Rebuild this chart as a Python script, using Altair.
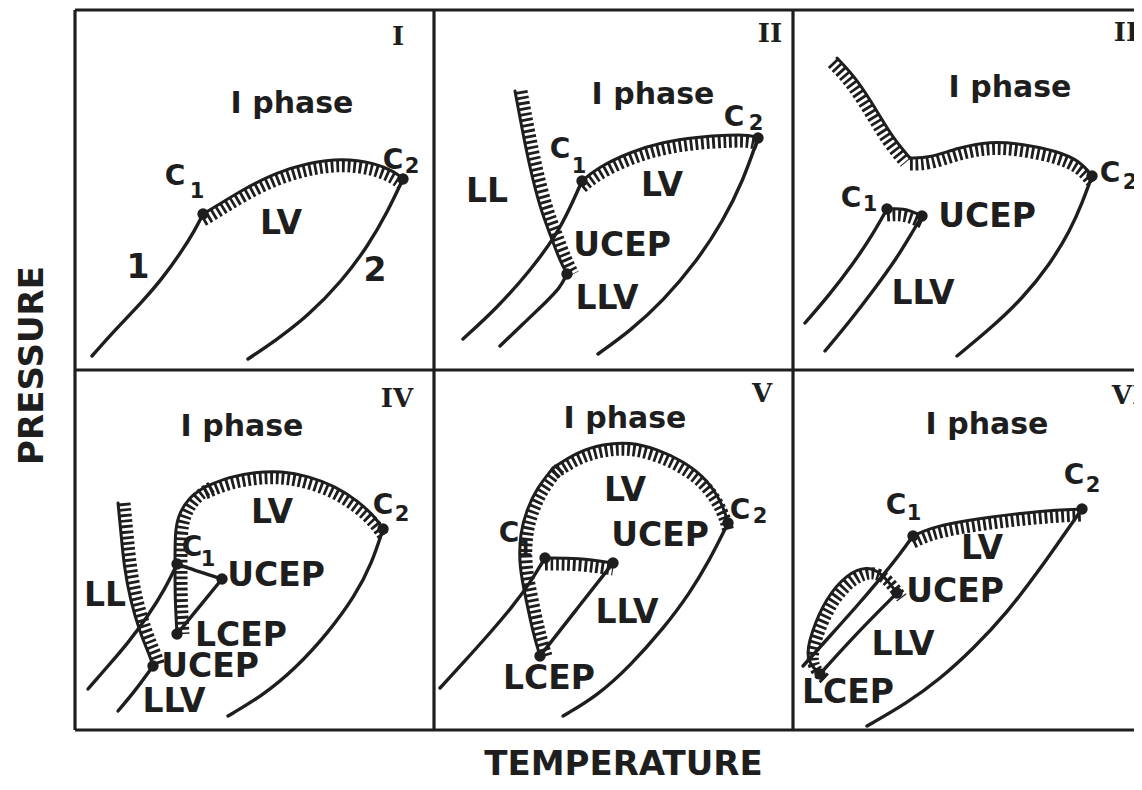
import altair as alt
import pandas as pd

INK = "#1e1e1e"

# ---------------- grid of the six panels ----------------
PANEL_NAMES = ["I", "II", "III", "IV", "V", "VI"]
PANEL_COL = [0, 1, 2, 0, 1, 2]
PANEL_ROW = [0, 0, 0, 1, 1, 1]
PANEL_W = 359
PANEL_H = 360

# ---------------- curves, (T, P) inside each panel ----------------
# Panel I
VAP1_I = [(17, 14), (40, 40), (67, 68), (87, 91), (107, 119), (120, 140), (128, 156)]
VAP2_I = [(173, 11), (200, 29), (233, 54), (267, 89), (293, 124), (313, 159), (328, 191)]
CRIT_LV_I = [(128, 156), (140, 163), (167, 180), (200, 197), (233, 207), (267, 212),
             (300, 207), (320, 198), (328, 191)]
# Panel II
VAP1_II = [(29, 31), (63, 62), (96, 99), (123, 136), (136, 162), (148, 189)]
LLV_II = [(66, 24), (89, 46), (113, 69), (126, 82), (133, 96)]
VAP2_II = [(164, 16), (196, 39), (229, 69), (263, 109), (289, 149), (309, 189), (324, 232)]
CRIT_LV_II = [(148, 189), (163, 202), (196, 218), (229, 228), (263, 233), (296, 235),
              (316, 235), (324, 232)]
CRIT_LL_II = [(81, 279), (89, 236), (96, 202), (106, 162), (116, 136), (126, 109), (133, 96)]
# Panel III
VAP1_III = [(12, 47), (37, 76), (60, 106), (80, 136), (94, 161)]
LLV_III = [(32, 19), (57, 49), (80, 79), (104, 112), (120, 139), (129, 154)]
VAP2_III = [(164, 14), (197, 41), (230, 72), (257, 106), (277, 139), (290, 169), (299, 194)]
CRIT_UP_III_A = [(44, 312), (64, 291), (84, 259), (100, 232), (117, 212)]
CRIT_UP_III_B = [(117, 212), (137, 212), (164, 222), (197, 229), (230, 226), (264, 219),
                 (287, 209), (299, 194)]
CRIT_C1_III = [(94, 161), (112, 162), (129, 154)]
# Panel IV
VAP1_IV = [(13, 41), (33, 64), (53, 87), (73, 114), (90, 141), (102, 166)]
LLV_LOW_IV = [(43, 19), (60, 39), (78, 64)]
LLV_UP_IV = [(102, 96), (125, 124), (147, 151)]
VAP2_IV = [(153, 14), (187, 34), (220, 61), (253, 97), (280, 134), (297, 167), (308, 201)]
CRIT_LL_IV = [(43, 227), (46, 197), (49, 164), (55, 131), (65, 97), (75, 74), (78, 64)]
CRIT_C2_IV_TOP = [(308, 201), (300, 213), (283, 229), (260, 244), (233, 254), (207, 259),
                  (180, 258), (153, 253), (130, 243)]
CRIT_C2_IV_LEG = [(130, 243), (113, 232), (103, 214), (100, 197), (100, 166), (100, 131),
                  (102, 96)]
CRIT_C1_IV = [(102, 166), (125, 158), (147, 151)]
# Panel V
VAP1_V = [(6, 42), (29, 67), (56, 97), (79, 124), (96, 147), (111, 172)]
LLV_V = [(106, 74), (142, 120), (179, 167)]
VAP2_V = [(129, 14), (163, 34), (196, 64), (229, 101), (256, 137), (276, 171), (289, 197),
          (294, 207)]
CRIT_C2_V_TOP = [(294, 207), (289, 225), (273, 251), (249, 269), (223, 281), (196, 288),
                 (169, 286), (143, 278), (119, 262)]
CRIT_C2_V_LEG = [(119, 262), (103, 242), (93, 221), (86, 197), (85, 164), (92, 131),
                 (99, 97), (106, 74)]
CRIT_C1_V = [(111, 172), (145, 172), (179, 167)]
# Panel VI
VAP1_VI = [(10, 64), (37, 94), (64, 124), (87, 151), (107, 176), (120, 194)]
LLV_VI = [(27, 56), (64, 97), (104, 137)]
VAP2_VI = [(74, 4), (114, 27), (147, 51), (180, 81), (214, 117), (247, 161), (270, 194),
           (289, 221)]
CRIT_LV_VI = [(120, 194), (137, 202), (164, 208), (197, 213), (230, 217), (264, 220),
              (289, 221)]
CRIT_LL_VI = [(27, 56), (12, 70), (18, 97), (33, 132), (54, 156), (74, 164), (88, 157),
              (98, 145), (104, 137)]

# plain lines
PLAIN_LINES = [
    ("I", VAP1_I), ("I", VAP2_I),
    ("II", VAP1_II), ("II", LLV_II), ("II", VAP2_II),
    ("III", VAP1_III), ("III", LLV_III), ("III", VAP2_III),
    ("IV", VAP1_IV), ("IV", LLV_LOW_IV), ("IV", LLV_UP_IV), ("IV", VAP2_IV), ("IV", CRIT_C1_IV),
    ("V", VAP1_V), ("V", LLV_V), ("V", VAP2_V),
    ("VI", VAP1_VI), ("VI", LLV_VI), ("VI", VAP2_VI),
]
# critical lines (spine + hatching on one side)
CRITICAL_LINES = [
    ("I", "down", CRIT_LV_I),
    ("II", "down", CRIT_LV_II), ("II", "right", CRIT_LL_II),
    ("III", "downleft", CRIT_UP_III_A), ("III", "down", CRIT_UP_III_B), ("III", "down", CRIT_C1_III),
    ("IV", "right", CRIT_LL_IV), ("IV", "down", CRIT_C2_IV_TOP), ("IV", "right", CRIT_C2_IV_LEG),
    ("V", "down", CRIT_C2_V_TOP), ("V", "right", CRIT_C2_V_LEG), ("V", "down", CRIT_C1_V),
    ("VI", "down", CRIT_LV_VI), ("VI", "downright", CRIT_LL_VI),
]

# critical points / end points (C1, C2, UCEP, LCEP)
POINTS = {
    "I": [(128, 156), (328, 191)],
    "II": [(148, 189), (324, 232), (133, 96)],
    "III": [(94, 161), (129, 154), (299, 194)],
    "IV": [(102, 166), (308, 201), (147, 151), (102, 96), (78, 64)],
    "V": [(111, 172), (294, 207), (179, 167), (106, 74)],
    "VI": [(120, 194), (289, 221), (104, 137), (27, 56)],
}

# ---------------- labels ----------------
REGION_LABELS = [
    ("I", "LV", 206, 146), ("I", "1", 63, 102), ("I", "2", 300, 99),
    ("II", "LL", 53, 178), ("II", "LV", 228, 184), ("II", "UCEP", 188, 124), ("II", "LLV", 173, 71),
    ("III", "UCEP", 194, 153), ("III", "LLV", 130, 76),
    ("IV", "LV", 197, 217), ("IV", "UCEP", 201, 154), ("IV", "LL", 30, 134),
    ("IV", "LCEP", 166, 94), ("IV", "UCEP", 135, 63), ("IV", "LLV", 99, 28),
    ("V", "LV", 191, 239), ("V", "UCEP", 226, 194), ("V", "LLV", 193, 117), ("V", "LCEP", 115, 51),
    ("VI", "LV", 189, 181), ("VI", "UCEP", 162, 138), ("VI", "LLV", 110, 85), ("VI", "LCEP", 55, 37),
]
PHASE_LABELS = [
    ("I", "I phase", 217, 266), ("II", "I phase", 219, 275), ("III", "I phase", 217, 282),
    ("IV", "I phase", 167, 303), ("V", "I phase", 191, 311), ("VI", "I phase", 194, 305),
]
C_LETTERS = [
    ("I", "C", 100, 193), ("I", "C", 318, 209),
    ("II", "C", 126, 220), ("II", "C", 300, 252),
    ("III", "C", 58, 171), ("III", "C", 317, 196),
    ("IV", "C", 117, 182), ("IV", "C", 308, 224),
    ("V", "C", 75, 196), ("V", "C", 306, 219),
    ("VI", "C", 103, 224), ("VI", "C", 281, 254),
]
C_SUBSCRIPTS = [
    ("I", "1", 122, 178), ("I", "2", 337, 203),
    ("II", "1", 145, 203), ("II", "2", 322, 246),
    ("III", "1", 77, 165), ("III", "2", 337, 187),
    ("IV", "1", 133, 170), ("IV", "2", 327, 215),
    ("V", "1", 91, 180), ("V", "2", 326, 213),
    ("VI", "1", 121, 216), ("VI", "2", 300, 244),
]
NUMERALS = [
    ("I", "I", 323, 333), ("II", "II", 336, 336), ("III", "III", 339, 337),
    ("IV", "IV", 322, 331), ("V", "V", 328, 336), ("VI", "VI", 335, 334),
]
FRAME_X = [0, PANEL_W, 2 * PANEL_W]
FRAME_Y = [0, PANEL_H, 2 * PANEL_H]


def gxy(panel, t, p):
    i = PANEL_NAMES.index(panel)
    return PANEL_COL[i] * PANEL_W + t, (1 - PANEL_ROW[i]) * PANEL_H + p


def line_table(curves):
    rows = []
    for k, item in enumerate(curves):
        panel, pts = item[0], item[-1]
        d = item[1] if len(item) == 3 else ""
        for s, (t, p) in enumerate(pts):
            x, y = gxy(panel, t, p)
            rows.append({"id": k, "dir": d, "seq": s, "x": x, "y": y})
    return pd.DataFrame(rows)


def label_table(items):
    rows = []
    for panel, txt, t, p in items:
        x, y = gxy(panel, t, p)
        rows.append({"text": txt, "x": x, "y": y})
    return pd.DataFrame(rows)


plain_df = line_table(PLAIN_LINES)
crit_df = line_table(CRITICAL_LINES)
pts_df = pd.DataFrame([dict(zip(("x", "y"), gxy(pn, t, p))) for pn, lst in POINTS.items() for t, p in lst])

XS = alt.Scale(domain=[0, 1059], nice=False, zero=False)
YS = alt.Scale(domain=[0, 720], nice=False, zero=False)
X_AXIS = alt.Axis(title="TEMPERATURE", labels=False, ticks=False, domain=False, grid=False,
                  titleFont="DejaVu Sans", titleFontSize=34, titleFontWeight="bold",
                  titleColor=INK, titleX=548, titleY=44, titleBaseline="alphabetic",
                  titleAlign="center")
Y_AXIS = alt.Axis(title="PRESSURE", labels=False, ticks=False, domain=False, grid=False,
                  titleFont="DejaVu Sans", titleFontSize=34, titleFontWeight="bold",
                  titleColor=INK, titleX=-33, titleY=355, titleAngle=270,
                  titleBaseline="alphabetic", titleAlign="center")


def X():
    return alt.X("x:Q", scale=XS, axis=X_AXIS)


def Y():
    return alt.Y("y:Q", scale=YS, axis=Y_AXIS)


layers = []
layers.append(alt.Chart(pd.DataFrame({"x": FRAME_X})).mark_rule(color=INK, strokeWidth=3.2).encode(x=X()))
layers.append(alt.Chart(pd.DataFrame({"y": FRAME_Y})).mark_rule(color=INK, strokeWidth=3.2).encode(y=Y()))

layers.append(
    alt.Chart(plain_df).mark_line(color=INK, strokeWidth=3.4, strokeCap="round", strokeJoin="round",
                                  interpolate="basis")
    .encode(x=X(), y=Y(), detail="id:N", order="seq:Q")
)
layers.append(
    alt.Chart(crit_df).mark_line(color=INK, strokeWidth=3, strokeCap="round", strokeJoin="round",
                                 interpolate="basis")
    .encode(x=X(), y=Y(), detail="id:N", order="seq:Q")
)
OFFSETS = {"down": (0, 6.5), "right": (6.5, 0), "left": (-6.5, 0),
           "downleft": (-4.8, 4.8), "downright": (4.8, 4.8)}
for d, (dx, dy) in OFFSETS.items():
    sub = crit_df[crit_df["dir"] == d]
    if len(sub) == 0:
        continue
    layers.append(
        alt.Chart(sub).mark_line(color=INK, strokeWidth=12, strokeDash=[2.8, 2.8], strokeCap="butt",
                                 interpolate="basis", xOffset=dx, yOffset=dy)
        .encode(x=X(), y=Y(), detail="id:N", order="seq:Q")
    )

layers.append(alt.Chart(pts_df).mark_circle(size=130, color=INK, opacity=1).encode(x=X(), y=Y()))


def text_layer(items, size, font="DejaVu Sans"):
    return alt.Chart(label_table(items)).mark_text(
        font=font, fontSize=size, fontWeight="bold", color=INK, align="center", baseline="middle"
    ).encode(x=X(), y=Y(), text="text:N")


layers.append(text_layer(REGION_LABELS, 33))
layers.append(text_layer(PHASE_LABELS, 30))
layers.append(text_layer(C_LETTERS, 28))
layers.append(text_layer(C_SUBSCRIPTS, 21))
layers.append(text_layer(NUMERALS, 26, font="DejaVu Serif"))

chart = alt.layer(*layers).properties(
    width=1059, height=720,
    padding={"left": 67, "top": 2, "right": 0, "bottom": 52},
    autosize=alt.AutoSizeParams(type="none"),
    background="white",
).configure_view(stroke=None)

chart.save("out.html", embed_options={"renderer": "svg", "actions": False})
